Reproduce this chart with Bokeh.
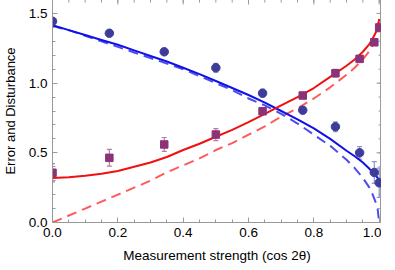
import math
from bokeh.plotting import figure
from bokeh.models import (LinearAxis, Range1d, ColumnDataSource, Whisker, TeeHead,
                          SingleIntervalTicker, NumeralTickFormatter)
from bokeh.embed import file_html
from bokeh.resources import INLINE

# measured data
strength = [0.0, 0.174, 0.342, 0.5, 0.643, 0.766, 0.866, 0.940, 0.985, 1.0]
disturbance = [1.444, 1.358, 1.225, 1.110, 0.928, 0.806, 0.687, 0.500, 0.359, 0.285]
disturbance_err = [0.02, 0.015, 0.015, 0.032, 0.027, 0.025, 0.036, 0.045, 0.078, 0.105]
error = [0.357, 0.464, 0.560, 0.631, 0.798, 0.911, 1.071, 1.174, 1.293, 1.399]
error_err = [0.066, 0.06, 0.05, 0.043, 0.02, 0.02, 0.027, 0.02, 0.02, 0.03]

# theory curves
curve_x = [0, 0.05, 0.1, 0.15, 0.2, 0.25, 0.3, 0.35, 0.4, 0.45, 0.5, 0.55, 0.6, 0.65,
           0.7, 0.75, 0.8, 0.85, 0.9, 0.925, 0.95, 0.97, 0.98, 0.99, 0.995, 1.0]
dist_solid = [1.415, 1.38, 1.345, 1.31, 1.275, 1.235, 1.195, 1.155, 1.11, 1.065, 1.015,
              0.965, 0.915, 0.86, 0.80, 0.74, 0.675, 0.60, 0.515, 0.475, 0.43, 0.385,
              0.36, 0.335, 0.32, 0.31]
dist_dashed = [1.41, 1.38, 1.34, 1.30, 1.26, 1.22, 1.18, 1.14, 1.10, 1.05, 1.00, 0.95,
               0.89, 0.84, 0.78, 0.71, 0.63, 0.55, 0.45, 0.39, 0.32, 0.25, 0.20, 0.14,
               0.10, 0.0]
err_solid = [0.32, 0.325, 0.335, 0.35, 0.37, 0.40, 0.43, 0.47, 0.52, 0.565, 0.615, 0.665,
             0.72, 0.78, 0.84, 0.90, 0.965, 1.045, 1.125, 1.17, 1.225, 1.28, 1.32, 1.365,
             1.395, 1.46]
err_dashed = [0.0, 0.05, 0.10, 0.15, 0.20, 0.25, 0.30, 0.36, 0.41, 0.46, 0.52, 0.57, 0.63,
              0.69, 0.76, 0.82, 0.89, 0.97, 1.06, 1.11, 1.17, 1.23, 1.27, 1.31, 1.34, 1.41]

x_major, x_minor_count = 0.2, 4
y_major, y_minor_count = 0.5, 5
x_end, y_end = 1.007, 1.6

FONT = "Liberation Sans"
FRAME = "#9a9a9a"

p = figure(frame_width=329, frame_height=223, x_range=Range1d(0, x_end),
           y_range=Range1d(0, y_end),
           output_backend="svg", toolbar_location=None, x_axis_type=None, y_axis_type=None,
           min_border_left=46, min_border_right=0, min_border_top=1, min_border_bottom=42)
p.styles = {"position": "relative", "top": "-2px", "left": "-1px", "margin-bottom": "-24px"}
p.grid.visible = False
p.outline_line_color = FRAME
p.outline_line_width = 1
p.background_fill_color = "white"


def make_axis(dim, title, standoff, title_size):
    ax = LinearAxis()
    if dim == "x":
        ax.ticker = SingleIntervalTicker(interval=x_major, num_minor_ticks=x_minor_count)
    else:
        ax.ticker = SingleIntervalTicker(interval=y_major, num_minor_ticks=y_minor_count)
    ax.formatter = NumeralTickFormatter(format="0.0")
    ax.axis_line_color = FRAME
    ax.major_tick_line_color = FRAME
    ax.minor_tick_line_color = FRAME
    ax.major_tick_in = 5
    ax.major_tick_out = 0
    ax.minor_tick_in = 3
    ax.minor_tick_out = 0
    ax.major_label_text_font = FONT
    ax.major_label_text_font_size = "13.5px"
    ax.major_label_text_color = "black"
    ax.major_label_standoff = 5
    ax.axis_label = title
    ax.axis_label_standoff = standoff
    ax.axis_label_text_font = FONT
    ax.axis_label_text_font_size = title_size
    ax.axis_label_text_font_style = "normal"
    ax.axis_label_text_color = "black"
    return ax


p.add_layout(make_axis("x", "Measurement strength (cos 2θ)", 8, "13.5px"), "below")
p.add_layout(make_axis("y", "Error and Disturbance", 8, "13px"), "left")

# mirrored inward frame ticks on the top and right edges
n_x = int(x_end / (x_major / x_minor_count) + 1e-9)
top_minor = [i * x_major / x_minor_count for i in range(n_x + 1)]
top_major = [i * x_major for i in range(int(x_end / x_major + 1e-9) + 1)]
n_y = round(y_end / (y_major / y_minor_count))
right_minor = [i * y_major / y_minor_count for i in range(n_y + 1)]
right_major = [i * y_major for i in range(int(y_end / y_major) + 1)]
p.scatter(top_minor, [y_end] * len(top_minor), marker="dash", angle=math.pi / 2, size=6,
          line_color=FRAME, line_width=1)
p.scatter(top_major, [y_end] * len(top_major), marker="dash", angle=math.pi / 2, size=10,
          line_color=FRAME, line_width=1)
p.scatter([x_end] * len(right_minor), right_minor, marker="dash", size=6,
          line_color=FRAME, line_width=1)
p.scatter([x_end] * len(right_major), right_major, marker="dash", size=10,
          line_color=FRAME, line_width=1)

# theory curves
p.line(curve_x, dist_dashed, line_color="#4c4cf0", line_width=2, line_dash="10 6")
p.line(curve_x, err_dashed, line_color="#ff5a5a", line_width=2, line_dash="10 6")
p.line(curve_x, dist_solid, line_color="#1010e8", line_width=2)
p.line(curve_x, err_solid, line_color="#f01010", line_width=2)

# error bars
src_d = ColumnDataSource(dict(x=strength, y=disturbance,
                              lo=[v - e for v, e in zip(disturbance, disturbance_err)],
                              hi=[v + e for v, e in zip(disturbance, disturbance_err)]))
src_e = ColumnDataSource(dict(x=strength, y=error,
                              lo=[v - e for v, e in zip(error, error_err)],
                              hi=[v + e for v, e in zip(error, error_err)]))
for src, col in ((src_d, "#9494cc"), (src_e, "#b87aa6")):
    w = Whisker(source=src, base="x", lower="lo", upper="hi", line_color=col, line_width=1.2,
                lower_head=TeeHead(size=5, line_color=col, line_width=1.2),
                upper_head=TeeHead(size=5, line_color=col, line_width=1.2),
                level="underlay")
    p.add_layout(w)

p.scatter("x", "y", source=src_d, marker="circle", size=8.5, fill_color="#3d3d99",
          line_color="#3d3d99")
p.scatter("x", "y", source=src_e, marker="square", size=7.5, fill_color="#8c3377",
          line_color="#8c3377")

open("out.html", "w").write(file_html(p, INLINE))
